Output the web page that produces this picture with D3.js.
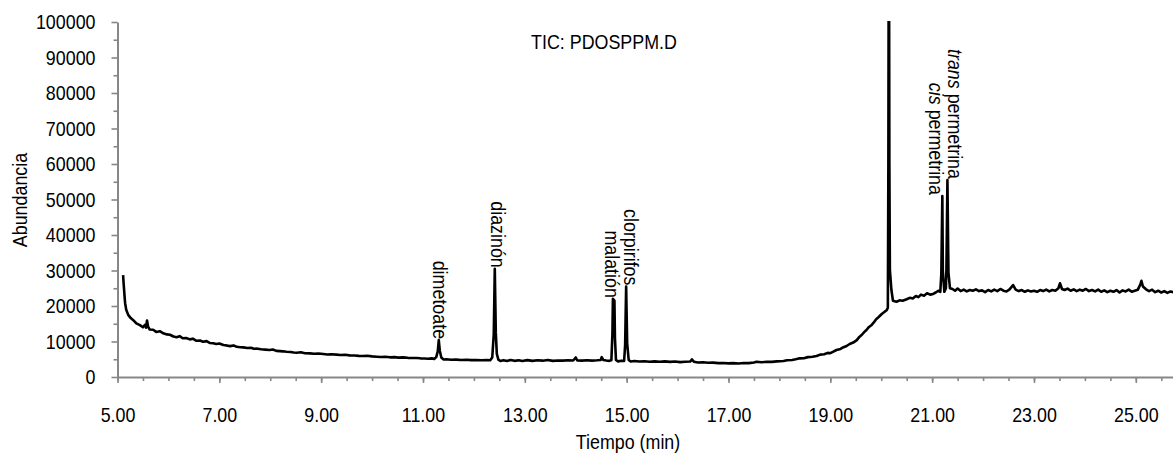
<!DOCTYPE html>
<html>
<head>
<meta charset="utf-8">
<script src="https://cdn.jsdelivr.net/npm/d3@7"></script>
<style>
  body { margin: 0; background: #fff; }
  svg { display: block; font-family: "Liberation Sans", Arial, sans-serif; }
</style>
</head>
<body>
<div id="chart"></div>
<script>

// [time (min), abundance]
var trace = [
  [5.11, 28700],[5.12, 26400],[5.14, 22500],[5.15, 20800],[5.17, 19000],[5.21, 17500],[5.26, 16600],[5.31, 16000],
  [5.37, 15100],[5.44, 14600],[5.5, 14000],[5.54, 14700],[5.56, 13900],[5.58, 15900],[5.6, 14200],[5.63, 13400],
  [5.7, 13300],[5.76, 12700],[5.83, 12900],[5.9, 12300],[5.97, 12000],[6.03, 11900],[6.1, 11400],[6.16, 11200],
  [6.22, 11500],[6.28, 10900],[6.35, 11000],[6.42, 10600],[6.48, 10800],[6.55, 10200],[6.62, 10300],[6.68, 9950],
  [6.75, 10100],[6.81, 9600],[6.88, 9500],[6.94, 9300],[7.0, 9450],[7.08, 9000],[7.14, 8900],[7.21, 8700],
  [7.28, 8900],[7.34, 8500],[7.41, 8400],[7.47, 8350],[7.55, 8150],[7.62, 8250],[7.68, 7950],[7.75, 7980],
  [7.82, 7800],[7.9, 7700],[7.99, 7600],[8.05, 7750],[8.12, 7350],[8.19, 7300],[8.25, 7230],[8.32, 7100],
  [8.4, 7050],[8.46, 6900],[8.52, 6850],[8.6, 6950],[8.68, 6700],[8.78, 6660],[8.86, 6550],[8.95, 6600],
  [9.04, 6480],[9.12, 6350],[9.2, 6400],[9.3, 6290],[9.38, 6200],[9.47, 6250],[9.56, 6100],[9.65, 6050],
  [9.74, 5950],[9.82, 5900],[9.9, 6000],[10.0, 5800],[10.09, 5720],[10.18, 5650],[10.26, 5700],[10.35, 5540],
  [10.44, 5600],[10.52, 5450],[10.61, 5540],[10.7, 5400],[10.78, 5350],[10.87, 5350],[10.95, 5260],[11.03, 5200],
  [11.1, 5160],[11.17, 5250],[11.22, 5100],[11.26, 5600],[11.29, 7200],[11.31, 10400],[11.33, 7400],[11.36, 5500],
  [11.4, 4950],[11.46, 5000],[11.55, 4850],[11.65, 4900],[11.75, 4800],[11.85, 4850],[11.95, 4750],[12.05, 4800],
  [12.15, 4700],[12.25, 4750],[12.32, 4700],[12.36, 5500],[12.39, 12000],[12.41, 30500],[12.43, 12500],[12.45, 6500],
  [12.48, 4900],[12.52, 4500],[12.58, 4750],[12.65, 4500],[12.72, 4800],[12.8, 4550],[12.88, 4700],[12.95, 4500],
  [13.05, 4750],[13.15, 4550],[13.25, 4700],[13.35, 4600],[13.45, 4800],[13.55, 4550],[13.65, 4650],[13.75, 4600],
  [13.85, 4700],[13.95, 4650],[14.0, 5500],[14.03, 4650],[14.12, 4600],[14.22, 4700],[14.32, 4600],[14.42, 4700],
  [14.49, 4800],[14.51, 5600],[14.54, 4800],[14.6, 4650],[14.66, 4550],[14.7, 4700],[14.72, 12000],[14.73, 22000],
  [14.76, 21500],[14.77, 11000],[14.79, 4800],[14.83, 4400],[14.9, 4600],[14.95, 4500],[14.97, 9000],[14.99, 25500],
  [15.01, 9500],[15.04, 4800],[15.08, 4350],[15.15, 4500],[15.25, 4350],[15.35, 4450],[15.45, 4300],[15.55, 4400],
  [15.65, 4300],[15.75, 4400],[15.85, 4250],[15.95, 4350],[16.05, 4200],[16.15, 4300],[16.25, 4350],[16.28, 4950],
  [16.32, 4300],[16.4, 4100],[16.5, 4150],[16.6, 4000],[16.7, 4050],[16.8, 3900],[16.9, 3950],[17.0, 3850],
  [17.09, 3900],[17.2, 3800],[17.3, 3950],[17.4, 3900],[17.5, 4100],[17.55, 4300],[17.65, 4150],[17.75, 4300],
  [17.85, 4250],[17.95, 4400],[18.08, 4500],[18.15, 4700],[18.25, 4800],[18.32, 5000],[18.4, 5260],[18.48, 5300],
  [18.56, 5600],[18.65, 5700],[18.73, 5900],[18.8, 6300],[18.88, 6400],[18.95, 6800],[19.0, 6700],[19.06, 7140],
  [19.12, 7600],[19.2, 7900],[19.26, 8400],[19.32, 8730],[19.38, 9300],[19.45, 9700],[19.52, 10400],[19.57, 11300],
  [19.62, 11900],[19.67, 12700],[19.71, 13240],[19.76, 14100],[19.8, 14500],[19.85, 15300],[19.9, 16300],[19.95, 16900],
  [20.01, 17750],[20.06, 18300],[20.11, 18900],[20.13, 19500],[20.14, 60000],[20.15, 150000],[20.16, 60000],[20.17, 30100],
  [20.2, 24500],[20.23, 21500],[20.3, 21200],[20.36, 21600],[20.42, 21500],[20.5, 21900],[20.56, 22300],[20.62, 22100],
  [20.68, 22800],[20.73, 22500],[20.78, 23200],[20.84, 22900],[20.9, 23600],[20.96, 23200],[21.02, 23400],[21.07, 23800],
  [21.12, 24300],[21.16, 24000],[21.18, 29000],[21.2, 51000],[21.21, 30000],[21.24, 24000],[21.27, 25000],[21.28, 30000],
  [21.3, 55500],[21.32, 29500],[21.35, 25000],[21.4, 24800],[21.45, 24300],[21.5, 24900],[21.56, 24200],[21.62, 24600],
  [21.68, 24100],[21.74, 24500],[21.8, 24300],[21.86, 24700],[21.92, 24200],[21.98, 24400],[22.04, 23900],[22.1, 24500],
  [22.16, 24100],[22.22, 24600],[22.28, 24200],[22.34, 24800],[22.4, 24300],[22.46, 24100],[22.52, 24700],[22.59, 25900],
  [22.64, 24600],[22.7, 24200],[22.76, 24500],[22.82, 24000],[22.88, 24400],[22.94, 24100],[23.0, 24300],[23.06, 24000],
  [23.12, 24500],[23.18, 24200],[23.24, 24600],[23.3, 24100],[23.36, 24500],[23.42, 24300],[23.48, 25000],[23.51, 26400],
  [23.55, 24800],[23.6, 24500],[23.66, 24900],[23.72, 24300],[23.78, 24700],[23.84, 24200],[23.9, 24600],[23.96, 24300],
  [24.02, 24800],[24.08, 24200],[24.14, 24500],[24.2, 24100],[24.26, 24600],[24.32, 24000],[24.38, 24400],[24.44, 23900],
  [24.5, 24300],[24.56, 24000],[24.62, 24500],[24.68, 23800],[24.74, 24400],[24.8, 24100],[24.86, 24600],[24.92, 24000],
  [24.98, 24300],[25.04, 24600],[25.09, 26100],[25.11, 27100],[25.14, 25500],[25.2, 24700],[25.26, 24200],[25.32, 24600],
  [25.38, 23900],[25.44, 24300],[25.5, 23800],[25.56, 24200],[25.62, 23700],[25.68, 24100],[25.74, 23900],[25.8, 24200]
];

// labelled compounds: name prefix in italics, retention time, sideways nudge of the label (px)
var peakNames   = [["", "dimetoate"], ["", "diazinón"], ["", "malatión"], ["", "clorpirifos"], ["cis", " permetrina"], ["trans", " permetrina"]];
var peakTimes   = [11.31, 12.41, 14.74, 14.99, 21.2, 21.3];
var peakNudge   = [1, 3, -1, 5, -6, 8];

var xTicks = [5, 7, 9, 11, 13, 15, 17, 19, 21, 23, 25];
var yTicks = [0, 10000, 20000, 30000, 40000, 50000, 60000, 70000, 80000, 90000, 100000];

var width = 1173, height = 453;
var squeezeK = 0.85;
var axisColor = "#878787";

var svg = d3.select("#chart").append("svg")
    .attr("width", width)
    .attr("height", height);

var x = d3.scaleLinear().domain([5, 25.75]).range([117.5, 1174]);
var y = d3.scaleLinear().domain([0, 100000]).range([377, 22]);

// narrow the text a little, the font is a condensed one
function squeeze(sel) {
  sel.each(function () {
    var w = this.getComputedTextLength();
    d3.select(this).attr("textLength", w * squeezeK).attr("lengthAdjust", "spacingAndGlyphs");
  });
}

// minor ticks first so the major ones sit on top
svg.append("g")
    .attr("transform", "translate(0," + y(0) + ")")
    .call(d3.axisBottom(x).tickValues(d3.range(5, 25.8, 0.5)).tickSize(4).tickFormat(""))
    .call(g => g.select(".domain").remove());

svg.append("g")
    .attr("transform", "translate(" + x(5) + ",0)")
    .call(d3.axisLeft(y).tickValues(d3.range(5000, 100000, 10000)).tickSize(4).tickFormat(""))
    .call(g => g.select(".domain").remove());

var xAxis = svg.append("g")
    .attr("transform", "translate(0," + y(0) + ")")
    .call(d3.axisBottom(x).tickValues(xTicks).tickSize(6).tickSizeOuter(0).tickPadding(24).tickFormat(d3.format(".2f")));

var yAxis = svg.append("g")
    .attr("transform", "translate(" + x(5) + ",0)")
    .call(d3.axisLeft(y).tickValues(yTicks).tickSize(6).tickSizeOuter(0).tickPadding(16).tickFormat(d3.format("d")));

svg.selectAll(".tick line").attr("stroke", axisColor).attr("stroke-width", 1.6);
svg.selectAll(".domain").attr("stroke", axisColor).attr("stroke-width", 2);
svg.selectAll(".tick text").attr("font-size", 21).attr("font-family", null).attr("fill", "#000").call(squeeze);

// chromatogram trace, clipped to the plot box (the big peak runs off the top)
svg.append("clipPath").attr("id", "plot")
  .append("rect")
    .attr("x", x(5)).attr("y", y(100000) - 1)
    .attr("width", width - x(5)).attr("height", y(0) - y(100000) + 1);

svg.append("path")
    .datum(trace)
    .attr("clip-path", "url(#plot)")
    .attr("fill", "none")
    .attr("stroke", "#000")
    .attr("stroke-width", 2.6)
    .attr("stroke-linejoin", "round")
    .attr("d", d3.line().x(d => x(d[0])).y(d => y(d[1])));

// compound names stand on top of their peaks, reading downwards
peakTimes.forEach(function (t, i) {
  var apex = d3.max(trace.filter(d => Math.abs(d[0] - t) < 0.02), d => d[1]);
  var label = svg.append("text")
      .attr("transform", "translate(" + (x(t) + peakNudge[i]) + "," + (y(apex) - 1) + ") rotate(90)")
      .attr("text-anchor", "end")
      .attr("dy", "0.33em")
      .attr("font-size", 21)
      .attr("fill", "#000");
  label.append("tspan").attr("font-style", "italic").text(peakNames[i][0]);
  label.append("tspan").text(peakNames[i][1]);
  squeeze(label);
});

svg.append("text")
    .attr("x", 604).attr("y", 49)
    .attr("text-anchor", "middle")
    .attr("font-size", 21)
    .attr("fill", "#000")
    .text("TIC: PDOSPPM.D")
    .call(squeeze);

svg.append("text")
    .attr("x", 628).attr("y", 449)
    .attr("text-anchor", "middle")
    .attr("font-size", 21)
    .attr("fill", "#000")
    .text("Tiempo (min)")
    .call(squeeze);

svg.append("text")
    .attr("transform", "translate(27,200) rotate(-90)")
    .attr("text-anchor", "middle")
    .attr("font-size", 21)
    .attr("fill", "#000")
    .text("Abundancia")
    .call(squeeze);

</script>
</body>
</html>
